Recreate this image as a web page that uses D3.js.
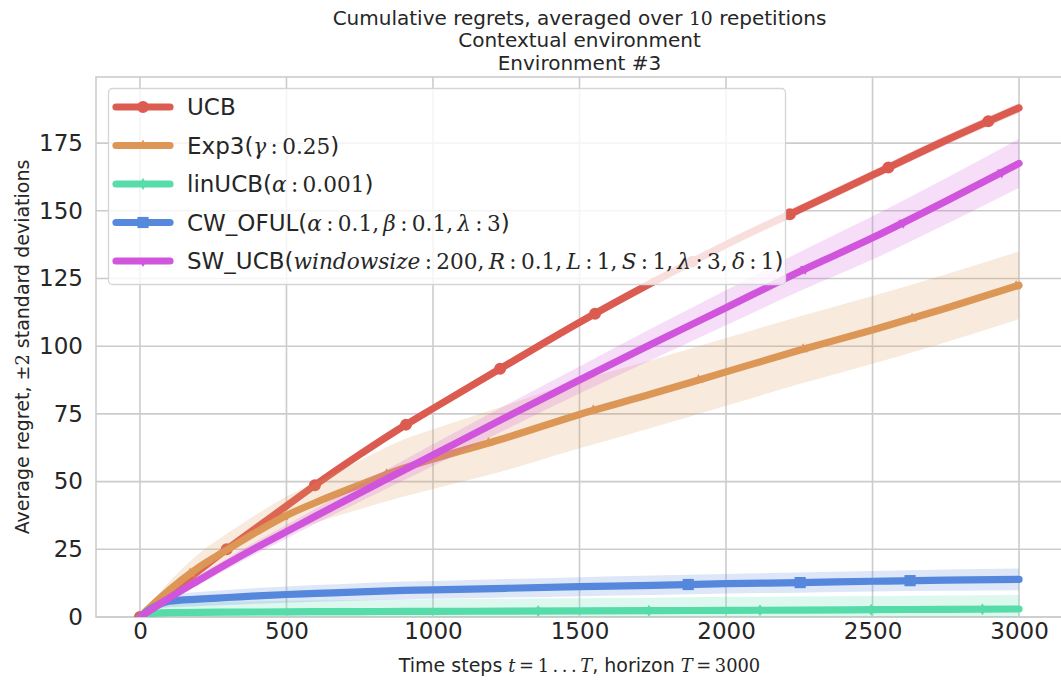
<!DOCTYPE html>
<html>
<head>
<meta charset="utf-8">
<script src="https://cdn.jsdelivr.net/npm/d3@7"></script>
<style>
  body { margin: 0; background: #ffffff; }
  svg { display: block; }
</style>
</head>
<body>
<svg id="chart" width="1061" height="683"></svg>
<script>
// ---- data: cumulative regret, mean and 2-std half width, per time step ----
const steps = [0, 50, 100, 200, 300, 400, 500, 600, 750, 900, 1000, 1250, 1500, 1750, 2000, 2250, 2500, 2750, 3000];

const ucbMean = [0, 4.3, 8.6, 17, 25.3, 33.2, 41, 48.9, 60, 70.5, 77, 93, 108.8, 123.6, 137.5, 150.4, 163.2, 176, 188];
const ucbDev  = [0, 0.5, 0.8, 1, 1.1, 1.2, 1.2, 1.3, 1.3, 1.4, 1.4, 1.5, 1.5, 1.6, 1.6, 1.7, 1.7, 1.8, 1.8];

const exp3Mean = [0, 5.2, 10, 18.3, 25, 31.5, 37.5, 42.3, 48.8, 55, 58.3, 66.2, 74.8, 82.5, 90.5, 98.5, 106, 114, 122.5];
const exp3Dev  = [0, 1.5, 3, 5, 6, 6.5, 7, 7.5, 9, 10.5, 11, 12, 12.5, 12.5, 12.5, 12.5, 12.5, 12.5, 12.5];

const linMean = [0, 1.3, 1.6, 1.7, 1.8, 1.85, 1.9, 1.95, 2, 2.05, 2.1, 2.15, 2.25, 2.35, 2.45, 2.55, 2.7, 2.85, 2.95];
const linDev  = [0, 2, 3, 3.5, 3.8, 4, 4.1, 4.2, 4.3, 4.4, 4.5, 4.6, 4.7, 4.8, 5, 5, 5.1, 5.1, 5.2];

const cwMean = [0, 3.8, 5.8, 6.6, 7.2, 7.8, 8.3, 8.7, 9.3, 9.8, 10, 10.6, 11.2, 11.7, 12.3, 12.7, 13.2, 13.6, 13.9];
const cwDev  = [0, 1.5, 2.2, 2.6, 2.8, 2.9, 3, 3.1, 3.2, 3.3, 3.3, 3.4, 3.5, 3.6, 3.6, 3.7, 3.8, 3.9, 4];

const swMean = [0, 3.5, 7, 13.5, 19.8, 25.8, 31.5, 37.3, 45.8, 54.2, 59.8, 73.8, 87.5, 101, 114.2, 127.5, 140, 153.5, 167.5];
const swDev  = [0, 0.5, 1, 1.7, 2, 2.3, 2.5, 2.8, 3.2, 3.7, 4, 4.5, 5, 5.8, 6.5, 7.2, 8, 8.5, 9];

// time steps where each curve carries a marker
const ucbMarks  = [0, 296, 597, 908, 1229, 1553, 1885, 2218, 2554, 2895];
const exp3Marks = [171, 489, 842, 1189, 1547, 1906, 2263, 2635, 2990];
const linMarks  = [1359, 1737, 2116, 2495, 2875];
const cwMarks   = [1871, 2253, 2628];
const swMarks   = [2270, 2605, 2941];

const seriesNames  = ["UCB", "Exp3", "linUCB", "CW_OFUL", "SW_UCB"];
const seriesColors = ["#dc5c52", "#dd9656", "#57dda9", "#5688dc", "#d056dc"];

// legend labels: [text, style] with s = sans, m = math roman, i = math italic
const legendLabels = [
  [["UCB", "s"]],
  [["Exp3(", "s"], ["γ", "i"], ["\u2009:\u2009", "m"], ["0.25", "m"], [")", "s"]],
  [["linUCB(", "s"], ["α", "i"], ["\u2009:\u2009", "m"], ["0.001", "m"], [")", "s"]],
  [["CW_OFUL(", "s"], ["α", "i"], ["\u2009:\u2009", "m"], ["0.1,\u2009", "m"], ["β", "i"], ["\u2009:\u2009", "m"], ["0.1,\u2009", "m"], ["λ", "i"], ["\u2009:\u2009", "m"], ["3", "m"], [")", "s"]],
  [["SW_UCB(", "s"], ["windowsize", "i"], ["\u2009:\u2009", "m"], ["200,\u2009", "m"], ["R", "i"], ["\u2009:\u2009", "m"], ["0.1,\u2009", "m"], ["L", "i"], ["\u2009:\u2009", "m"], ["1,\u2009", "m"], ["S", "i"], ["\u2009:\u2009", "m"], ["1,\u2009", "m"], ["λ", "i"], ["\u2009:\u2009", "m"], ["3,\u2009", "m"], ["δ", "i"], ["\u2009:\u2009", "m"], ["1", "m"], [")", "s"]]
];

const titleLines = [
  [["Cumulative regrets, averaged over ", "s"], ["10", "m"], [" repetitions", "s"]],
  [["Contextual environment", "s"]],
  [["Environment #3", "s"]]
];
const xLabel = [["Time steps ", "s"], ["t", "i"], ["\u2009=\u2009", "m"], ["1\u2009.\u2009.\u2009.\u2009", "m"], ["T", "i"], [", horizon ", "s"], ["T", "i"], ["\u2009=\u2009", "m"], ["3000", "m"]];
const yLabel = [["Average regret, ", "s"], ["±2", "m"], [" standard deviations", "s"]];

const xTicks = [0, 500, 1000, 1500, 2000, 2500, 3000];
const yTicks = [0, 25, 50, 75, 100, 125, 150, 175];

// ---- layout ----
const W = 1061, H = 683;
const plot = { left: 96, right: 1063, top: 77, bottom: 617 };
const SANS = "DejaVu Sans, sans-serif";
const SERIF = "DejaVu Serif, serif";
const INK = "#262626";
const GRID = "#cccccc";

const x = d3.scaleLinear().domain([-150, 3150]).range([plot.left, plot.right]);
const y = d3.scaleLinear().domain([0, 199.4]).range([plot.bottom, plot.top]);

const svg = d3.select("#chart");

// writes sans / math segments into one text element; math runs slightly smaller
function mixedText(sel, segs, size) {
  sel.attr("font-size", size);
  segs.forEach(([t, s]) => {
    sel.append("tspan")
      .attr("font-family", s === "s" ? SANS : SERIF)
      .attr("font-style", s === "i" ? "italic" : "normal")
      .attr("font-size", s === "s" ? size : size * 0.94)
      .text(t);
  });
  return sel;
}

svg.append("defs").append("clipPath").attr("id", "plotClip")
  .append("rect")
  .attr("x", plot.left).attr("y", plot.top)
  .attr("width", plot.right - plot.left).attr("height", plot.bottom - plot.top);

// grid
const grid = svg.append("g");
grid.selectAll("line.gx").data(xTicks).join("line")
  .attr("x1", d => x(d)).attr("x2", d => x(d))
  .attr("y1", plot.top).attr("y2", plot.bottom)
  .attr("stroke", GRID).attr("stroke-width", 1.6);
grid.selectAll("line.gy").data(yTicks).join("line")
  .attr("x1", plot.left).attr("x2", plot.right)
  .attr("y1", d => y(d)).attr("y2", d => y(d))
  .attr("stroke", GRID).attr("stroke-width", 1.6);
svg.append("rect")
  .attr("x", plot.left).attr("y", plot.top)
  .attr("width", plot.right - plot.left).attr("height", plot.bottom - plot.top)
  .attr("fill", "none").attr("stroke", GRID).attr("stroke-width", 1.6);

// tick labels via d3 axes
const xAxis = svg.append("g")
  .attr("transform", `translate(0,${plot.bottom})`)
  .call(d3.axisBottom(x).tickValues(xTicks).tickFormat(d3.format("d")).tickSize(0).tickPadding(6));
const yAxis = svg.append("g")
  .attr("transform", `translate(${plot.left},0)`)
  .call(d3.axisLeft(y).tickValues(yTicks).tickFormat(d3.format("d")).tickSize(0).tickPadding(13));
[xAxis, yAxis].forEach(a => {
  a.select(".domain").remove();
  a.selectAll("text").attr("font-family", SANS).attr("font-size", 23).attr("fill", INK);
});

// markers
const markerShapes = [
  d3.symbol().type(d3.symbolCircle).size(113)(),
  "M0,-6L5,3L-5,3Z",
  "M0,-6L3.6,0L0,6L-3.6,0Z",
  "M-5.6,-5.6L5.6,-5.6L5.6,5.6L-5.6,5.6Z",
  "M0,6L5,-3L-5,-3Z"
];

const series = [
  { mean: ucbMean, dev: ucbDev, marks: ucbMarks },
  { mean: exp3Mean, dev: exp3Dev, marks: exp3Marks },
  { mean: linMean, dev: linDev, marks: linMarks },
  { mean: cwMean, dev: cwDev, marks: cwMarks },
  { mean: swMean, dev: swDev, marks: swMarks }
].map((s, i) => ({ ...s, name: seriesNames[i], color: seriesColors[i], shape: markerShapes[i], label: legendLabels[i] }));

const curve = d3.curveMonotoneX;
const line = d3.line().x((d, i) => x(steps[i])).y(d => y(d)).curve(curve);

const plotG = svg.append("g").attr("clip-path", "url(#plotClip)");

// y position on a drawn path at a given pixel x
function yOnPath(node, px) {
  const total = node.getTotalLength();
  let lo = 0, hi = total;
  for (let k = 0; k < 40; k++) {
    const mid = (lo + hi) / 2;
    if (node.getPointAtLength(mid).x < px) lo = mid; else hi = mid;
  }
  return node.getPointAtLength((lo + hi) / 2).y;
}

series.forEach(s => {
  const path = plotG.append("path")
    .datum(s.mean)
    .attr("d", line)
    .attr("fill", "none")
    .attr("stroke", s.color)
    .attr("stroke-width", 7.2)
    .attr("stroke-linejoin", "round")
    .attr("stroke-linecap", "round");
  const node = path.node();
  plotG.selectAll(null).data(s.marks).join("path")
    .attr("d", s.shape)
    .attr("fill", s.color)
    .attr("transform", t => `translate(${x(t)},${yOnPath(node, x(t))})`);
  const area = d3.area()
    .x((d, i) => x(steps[i]))
    .y0((d, i) => y(d - s.dev[i]))
    .y1((d, i) => y(d + s.dev[i]))
    .curve(curve);
  plotG.append("path")
    .datum(s.mean)
    .attr("d", area)
    .attr("fill", s.color)
    .attr("fill-opacity", 0.2);
});

// legend
const lg = { x: 108.5, y: 88.5, w: 677, h: 196, row0: 107, rowStep: 38.5 };
const legend = svg.append("g");
legend.append("rect")
  .attr("x", lg.x).attr("y", lg.y).attr("width", lg.w).attr("height", lg.h)
  .attr("rx", 4).attr("fill", "#ffffff").attr("fill-opacity", 0.8)
  .attr("stroke", "#d5d5d5").attr("stroke-width", 1.3);
series.forEach((s, i) => {
  const cy = lg.row0 + i * lg.rowStep;
  legend.append("line")
    .attr("x1", 116).attr("x2", 170).attr("y1", cy).attr("y2", cy)
    .attr("stroke", s.color).attr("stroke-width", 7.2).attr("stroke-linecap", "round");
  legend.append("path").attr("d", s.shape).attr("fill", s.color)
    .attr("transform", `translate(143,${cy})`);
  mixedText(legend.append("text")
    .attr("x", 187).attr("y", cy + 8.3)
    .attr("fill", INK), s.label, 23);
});

// titles and axis labels
titleLines.forEach((segs, i) => {
  mixedText(svg.append("text")
    .attr("x", (plot.left + plot.right) / 2).attr("y", 25 + i * 22.3)
    .attr("text-anchor", "middle").attr("fill", INK), segs, 20);
});
mixedText(svg.append("text")
  .attr("x", (plot.left + plot.right) / 2).attr("y", 672)
  .attr("text-anchor", "middle").attr("fill", INK), xLabel, 19);
mixedText(svg.append("text")
  .attr("transform", `translate(29,${(plot.top + plot.bottom) / 2}) rotate(-90)`)
  .attr("text-anchor", "middle").attr("fill", INK), yLabel, 19);
</script>
</body>
</html>
